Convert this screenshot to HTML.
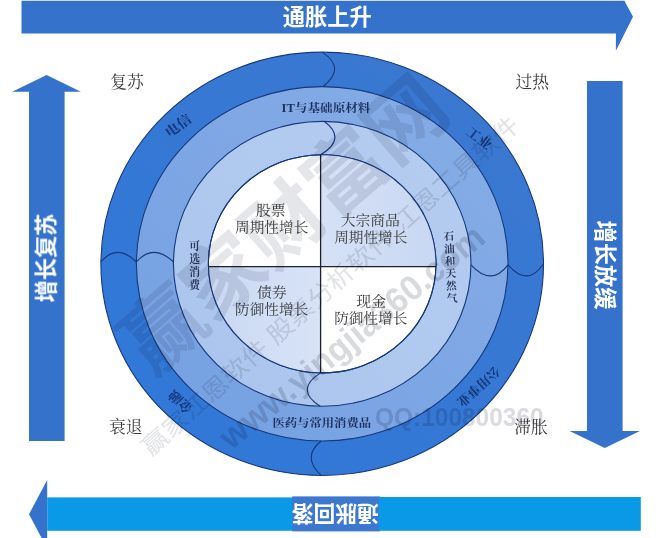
<!DOCTYPE html>
<html lang="zh"><head><meta charset="utf-8"><title>投资时钟</title>
<style>html,body{margin:0;padding:0;background:#fff;font-family:"Liberation Sans",sans-serif}svg{display:block}</style>
</head><body>
<svg width="656" height="538" viewBox="0 0 656 538" font-family="Liberation Sans, sans-serif">
<defs>
<linearGradient id="g1" x1="1" y1="0" x2="0" y2="1"><stop offset="0" stop-color="#3c78cf"/><stop offset="1" stop-color="#2f78d9"/></linearGradient>
<linearGradient id="g2" x1="0" y1="1" x2="1" y2="0"><stop offset="0" stop-color="#74a0e2"/><stop offset="1" stop-color="#86ade6"/></linearGradient>
<linearGradient id="g3" x1="0" y1="1" x2="1" y2="0"><stop offset="0" stop-color="#a9c4ed"/><stop offset="1" stop-color="#b6cdf0"/></linearGradient>
<linearGradient id="q1" x1="0" y1="0" x2="1" y2="0"><stop offset="0" stop-color="#d6e1f6"/><stop offset="1" stop-color="#c6d6f2"/></linearGradient>
<linearGradient id="q2" x1="0" y1="0" x2="1" y2="0"><stop offset="0" stop-color="#c6d6f2"/><stop offset="1" stop-color="#d8e3f7"/></linearGradient>
<clipPath id="c4"><ellipse cx="322.2" cy="263.8" rx="113.8" ry="109.1"/></clipPath>
<filter id="soft" x="-2%" y="-2%" width="104%" height="104%" color-interpolation-filters="sRGB"><feGaussianBlur stdDeviation="0.45"/></filter>
</defs>
<rect width="656" height="538" fill="#fff"/>
<g filter="url(#soft)">
<polygon fill="#3472cb" points="21.5,0.8 624.4,0.8 633,16.7 615.9,50.7 615.9,33.4 21.5,33.4"/>
<polygon fill="#3472cb" points="46.6,75 80.9,91.7 64.6,91.7 64.6,441 29,441 29,91.7 12.2,91.7"/>
<polygon fill="#3472cb" points="587,81 622.6,81 622.6,431 640,431 604.8,448 569.6,431 587,431"/>
<polygon fill="#3472cb" points="29,514.2 47.2,480 47.2,548.4"/>
<rect x="47.2" y="497.4" width="246" height="33.4" fill="#0a99e6"/>
<rect x="292.2" y="496.4" width="88" height="35" fill="#3c78d0"/>
<text transform="translate(335.20 514.60) rotate(180.00) translate(-43.60 8.28)" font-family="'Liberation Sans','Noto Sans CJK SC',sans-serif" font-weight="bold" font-size="21.8" fill="#fff" textLength="87.2" lengthAdjust="spacingAndGlyphs">通胀回落</text>
<rect x="378.8" y="497" width="262" height="33.8" fill="#0a99e6"/>
<text x="282.8" y="24.74" font-family="'Liberation Sans','Noto Sans CJK SC',sans-serif" font-weight="bold" font-size="22.2" fill="#fff" textLength="88.8" lengthAdjust="spacingAndGlyphs">通胀上升</text>
<text transform="translate(45.80 258.00) rotate(-90.00) translate(-44.40 8.44)" font-family="'Liberation Sans','Noto Sans CJK SC',sans-serif" font-weight="bold" font-size="22.2" fill="#fff" textLength="88.8" lengthAdjust="spacingAndGlyphs">增长复苏</text>
<text transform="translate(605.60 265.00) rotate(90.00) translate(-44.40 8.44)" font-family="'Liberation Sans','Noto Sans CJK SC',sans-serif" font-weight="bold" font-size="22.2" fill="#fff" textLength="88.8" lengthAdjust="spacingAndGlyphs">增长放缓</text>
<ellipse cx="322.2" cy="263.8" rx="221.3" ry="211.65" fill="url(#g1)" stroke="#16387c" stroke-width="1.1"/>
<ellipse cx="322.2" cy="263.8" rx="185.8" ry="177.15" fill="url(#g2)" stroke="#16387c" stroke-width="1.1"/>
<ellipse cx="322.2" cy="263.8" rx="148.75" ry="142.45" fill="url(#g3)" stroke="#16387c" stroke-width="1.1"/>
<ellipse cx="322.2" cy="263.8" rx="113.8" ry="109.1" fill="#fff" stroke="#16387c" stroke-width="1.1"/>
<g clip-path="url(#c4)">
<rect x="320.6" y="136.7" width="130" height="130" fill="url(#q1)"/>
<rect x="190.60000000000002" y="266.7" width="130" height="130" fill="url(#q2)"/>
</g>
<ellipse cx="322.2" cy="263.8" rx="113.8" ry="109.1" fill="none" stroke="#16387c" stroke-width="1.1"/>
<path d="M320.6 154.70000000000002 V372.9 M208.39999999999998 266.7 H436.0" stroke="#1c2230" stroke-width="1.3" fill="none"/>
<path d="M322.3 52.1 Q346.6 68.4 322.9 86.7 M324.1 121.3 Q347.4 138.6 320.6 154.8 M320.6 372.9 Q294.0 389.5 320.2 406.2 M321.2 441.0 Q301.2 456.6 321.2 475.4 M100.9 262.0 Q116.8 242.8 136.4 262.0 M136.4 262.0 Q153.1 242.8 173.5 262.0 M471.0 264.8 Q491.3 287.0 508.0 264.8 M508.0 264.8 Q527.7 287.5 543.5 263.7" fill="none" stroke="#16387c" stroke-width="1.1"/>
<g font-family="'Liberation Serif','Noto Serif CJK SC',serif" font-size="16.5" fill="#3c3c3c">
<text x="110.25" y="88.27" textLength="33.5" lengthAdjust="spacingAndGlyphs">复苏</text>
<text x="515.45" y="87.77" textLength="33.5" lengthAdjust="spacingAndGlyphs">过热</text>
<text x="109.05" y="432.77" textLength="33.5" lengthAdjust="spacingAndGlyphs">衰退</text>
<text x="514.25" y="432.77" textLength="33.5" lengthAdjust="spacingAndGlyphs">滞胀</text>
</g>
<g font-family="'Liberation Serif','Noto Serif CJK SC',serif" font-size="13.6" fill="#3c3c3c">
<text x="255.95" y="214.67" textLength="29.7" lengthAdjust="spacingAndGlyphs">股票</text>
<text x="235.1" y="231.87" textLength="73.2" lengthAdjust="spacingAndGlyphs">周期性增长</text>
<text x="340.7" y="224.77" textLength="59.2" lengthAdjust="spacingAndGlyphs">大宗商品</text>
<text x="334.2" y="241.87" textLength="73.2" lengthAdjust="spacingAndGlyphs">周期性增长</text>
<text x="256.95" y="297.37" textLength="29.7" lengthAdjust="spacingAndGlyphs">债券</text>
<text x="235.1" y="314.37" textLength="73.2" lengthAdjust="spacingAndGlyphs">防御性增长</text>
<text x="356.35" y="306.47" textLength="29.7" lengthAdjust="spacingAndGlyphs">现金</text>
<text x="334.2" y="323.47" textLength="73.2" lengthAdjust="spacingAndGlyphs">防御性增长</text>
</g>
<g font-family="'Liberation Serif','Noto Serif CJK SC',serif" font-weight="bold" font-size="11.6" fill="#1c2f5e">
<text x="281.55" y="111.61" textLength="88.9" lengthAdjust="spacingAndGlyphs">IT与基础原材料</text>
<text x="272.42" y="427.21" textLength="98.75" lengthAdjust="spacingAndGlyphs">医药与常用消费品</text>
</g>
<g transform="rotate(0.00 194.60 265.20)" font-family="'Liberation Serif','Noto Serif CJK SC',serif" font-weight="bold" font-size="10.8" fill="#2a3555">
<text x="189.2" y="250.1">可</text>
<text x="189.2" y="262.9">选</text>
<text x="189.2" y="275.7">消</text>
<text x="189.2" y="288.5">费</text>
</g>
<g transform="rotate(-3.00 450.40 267.00)" font-family="'Liberation Serif','Noto Serif CJK SC',serif" font-weight="bold" font-size="10.6" fill="#2a3555">
<text x="445.1" y="240.03">石</text>
<text x="445.1" y="252.43">油</text>
<text x="445.1" y="264.83">和</text>
<text x="445.1" y="277.23">天</text>
<text x="445.1" y="289.63">然</text>
<text x="445.1" y="302.03">气</text>
</g>
<g font-family="'Liberation Serif','Noto Serif CJK SC',serif" font-weight="bold" fill="#15367a">
<text transform="translate(177.90 125.40) rotate(-36.00) translate(-14.25 5.13)" font-size="13.5" textLength="28.5" lengthAdjust="spacingAndGlyphs">电信</text>
<text transform="translate(479.40 137.90) rotate(37.00) translate(-13.95 5.02)" font-size="13.2" textLength="27.9" lengthAdjust="spacingAndGlyphs">工业</text>
<text transform="translate(478.70 386.80) rotate(138.00) translate(-26.10 4.79)" font-size="12.6" textLength="52.2" lengthAdjust="spacingAndGlyphs">公用事业</text>
<text transform="translate(180.60 402.40) rotate(-138.00) translate(-13.95 5.02)" font-size="13.2" textLength="27.9" lengthAdjust="spacingAndGlyphs">金融</text>
</g>
<g style="mix-blend-mode:multiply">
<text transform="translate(283.00 223.00) rotate(-41.00) translate(-200.00 30.40)" font-family="'Liberation Sans','Noto Sans CJK SC',sans-serif" font-weight="bold" font-size="80" fill="#e5e6e9" textLength="400" lengthAdjust="spacingAndGlyphs">赢家财富网</text>
<text transform="translate(330.00 285.50) rotate(-41.70) translate(-247.70 9.12)" font-family="'Liberation Sans','Noto Sans CJK SC',sans-serif" font-size="24" fill="#e2e3e6" textLength="495.4" lengthAdjust="spacingAndGlyphs">赢家江恩软件 股票分析软件 江恩工具软件</text>
<text transform="translate(353.3 338.5) rotate(-39.3)" y="9.5" text-anchor="middle" font-size="35" font-weight="bold" fill="#d9dade" textLength="331" lengthAdjust="spacingAndGlyphs">www.yingjia360.com</text>
<text x="375" y="425.5" font-size="26.5" font-weight="bold" fill="#dadbdf" textLength="168.6" lengthAdjust="spacingAndGlyphs">QQ:100800360</text>
</g>
</g>
</svg>
</body></html>
